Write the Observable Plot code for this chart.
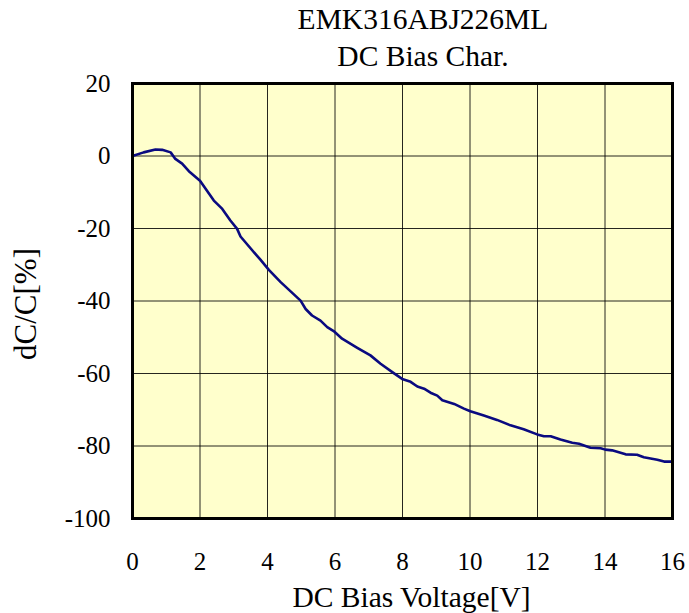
<!DOCTYPE html>
<html>
<head>
<meta charset="utf-8">
<script src="https://cdn.jsdelivr.net/npm/d3@7"></script>
<script src="https://cdn.jsdelivr.net/npm/@observablehq/plot@0.6"></script>
<style>
  html, body { margin: 0; padding: 0; background: #fff; }
  #wrap { width: 689px; height: 613px; overflow: hidden; }
  #title { height: 66px; box-sizing: border-box; padding-top: 1px; padding-left: 157px;
    text-align: center; font-family: "Liberation Serif", "Times New Roman", serif;
    font-size: 29.5px; line-height: 37px; color: #000; white-space: nowrap; }
  svg { display: block; overflow: visible; }
</style>
</head>
<body>
<div id="wrap">
  <div id="title"><div>EMK316ABJ226ML</div><div>DC Bias Char.</div></div>
  <div id="chart"></div>
</div>
<script>
const titleLines = ["EMK316ABJ226ML", "DC Bias Char."];
const xLabel = "DC Bias Voltage[V]";
const yLabel = "dC/C[%]";
const xTicks = [0, 2, 4, 6, 8, 10, 12, 14, 16];
const yTicks = [20, 0, -20, -40, -60, -80, -100];

const voltage = [0, 0.33, 0.68, 0.88, 1.13, 1.27, 1.47, 1.67, 2.0, 2.41, 2.66, 2.9, 3.1, 3.2,
  3.64, 3.79, 4.04, 4.39, 4.98, 5.13, 5.32, 5.57, 5.77, 5.96, 6.21, 6.66, 7.05, 7.35, 7.74,
  7.99, 8.24, 8.44, 8.64, 8.83, 9.03, 9.18, 9.53, 9.82, 10.01, 10.41, 10.8, 11.2, 11.59,
  11.99, 12.19, 12.39, 12.68, 13.03, 13.23, 13.57, 13.87, 14.01, 14.21, 14.61, 14.95,
  15.15, 15.55, 15.75, 16.0];
const dcPct = [0, 1.0, 1.8, 1.7, 1.0, -0.8, -2.1, -4.2, -6.8, -12.3, -14.6, -17.8, -20.1, -22.2,
  -27.0, -28.6, -31.4, -34.8, -39.9, -42.2, -44.0, -45.4, -47.2, -48.3, -50.4, -52.9, -55.0,
  -57.3, -59.9, -61.5, -62.3, -63.6, -64.2, -65.3, -66.1, -67.4, -68.4, -69.7, -70.4, -71.6,
  -72.8, -74.3, -75.4, -76.8, -77.3, -77.3, -78.2, -79.1, -79.4, -80.5, -80.6, -81.0, -81.2,
  -82.3, -82.4, -83.1, -83.8, -84.3, -84.3];

const data = voltage.map((v, i) => ({v, c: dcPct[i]}));
const fmt = d => String(d);

const chart = Plot.plot({
  width: 689,
  height: 547,
  marginTop: 17,
  marginBottom: 95,
  marginLeft: 132,
  marginRight: 17,
  style: {fontFamily: "'Liberation Serif', 'Times New Roman', serif", background: "transparent", color: "#000", overflow: "visible"},
  x: {domain: [0, 16]},
  y: {domain: [-100, 20]},
  marks: [
    Plot.frame({fill: "#ffffcc", stroke: null}),
    Plot.ruleX(xTicks.slice(1, -1), {stroke: "#000", strokeWidth: 1, strokeOpacity: 0.85}),
    Plot.ruleY(yTicks.slice(1, -1), {stroke: "#000", strokeWidth: 1, strokeOpacity: 0.85}),
    Plot.line(data, {x: "v", y: "c", stroke: "#0a0a80", strokeWidth: 2.6, curve: "linear"}),
    Plot.frame({stroke: "#000", strokeWidth: 3}),
    Plot.axisX({ticks: xTicks, tickFormat: fmt, tickSize: 0, tickPadding: 34, fontSize: 25, label: null}),
    Plot.axisY({ticks: yTicks, tickFormat: fmt, tickSize: 0, tickPadding: 22, fontSize: 25, label: null}),
    Plot.text([xLabel], {text: d => d, frameAnchor: "bottom", dx: 9, dy: 79, lineAnchor: "middle",
      fontSize: 29.5, fill: "#000"}),
    Plot.text([yLabel], {text: d => d, frameAnchor: "left", textAnchor: "middle", dx: -106, dy: 3, rotate: -90,
      lineAnchor: "middle", fontSize: 31, fill: "#000"})
  ]
});
document.getElementById("chart").appendChild(chart);
</script>
</body>
</html>
